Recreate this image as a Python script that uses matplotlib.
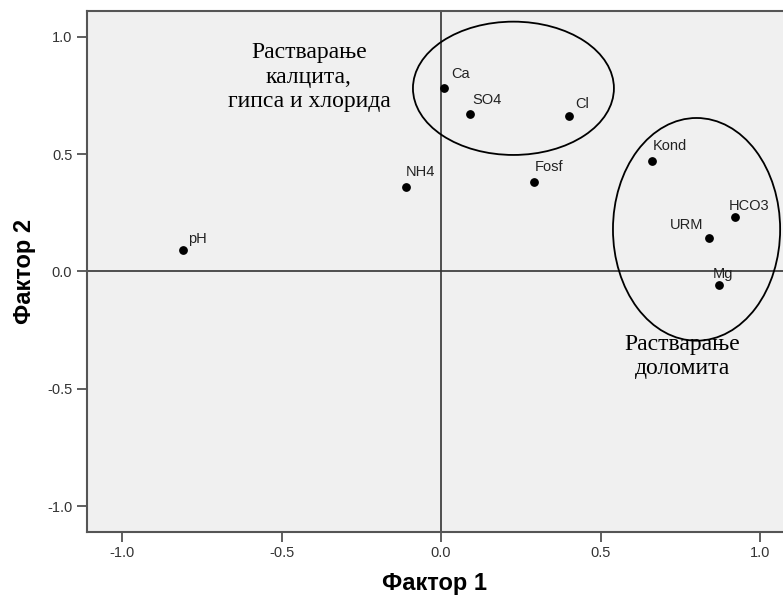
import matplotlib

matplotlib.use("Agg")

import matplotlib.pyplot as plt
from matplotlib.patches import Ellipse

# factor loadings
labels = ["pH", "NH4", "Ca", "SO4", "Cl", "Fosf", "Kond", "HCO3", "URM", "Mg"]
factor1 = [-0.81, -0.11, 0.01, 0.09, 0.40, 0.29, 0.66, 0.92, 0.84, 0.87]
factor2 = [0.09, 0.36, 0.78, 0.67, 0.66, 0.38, 0.47, 0.23, 0.14, -0.06]
label_offsets = [(4, 3), (0, 6), (5, 5), (2, 5), (5, 4), (1, 6), (1, 6), (-4, 3), (-4, 5), (-4, 3)]
label_align = ["left", "left", "left", "left", "left", "left", "left", "left", "right", "left"]

# groups (center x, center y, width, height) and their captions
groups = [(0.227, 0.78, 0.63, 0.568), (0.801, 0.179, 0.524, 0.949)]
group_texts = ["Растварање\nкалцита,\nгипса и хлорида", "Растварање\nдоломита"]
group_text_pos = [(-0.414, 0.827), (0.757, -0.363)]

xticks = [-1.0, -0.5, 0.0, 0.5, 1.0]
yticks = [-1.0, -0.5, 0.0, 0.5, 1.0]


def main() -> None:
    fig = plt.figure(figsize=(7.83, 6.03), dpi=100)
    ax = fig.add_axes([0.111, 0.118, 0.889, 0.864])
    ax.set_facecolor("#f0f0f0")

    ax.axhline(0, color="#333333", lw=1.2, zorder=1)
    ax.axvline(0, color="#333333", lw=1.2, zorder=1)

    ax.scatter(factor1, factor2, s=28, color="black", zorder=3)
    for lab, x, y, off, ha in zip(labels, factor1, factor2, label_offsets, label_align):
        ax.annotate(lab, (x, y), xytext=off, textcoords="offset points",
                    ha=ha, va="bottom", fontsize=10.5, color="#222222",
                    family="Liberation Sans")

    for (cx, cy, w, h) in groups:
        ax.add_patch(Ellipse((cx, cy), w, h, fill=False, edgecolor="black", lw=1.3, zorder=2))

    for txt, (tx, ty) in zip(group_texts, group_text_pos):
        ax.text(tx, ty, txt, ha="center", va="center", fontsize=17,
                family="Liberation Serif", linespacing=1.22)

    ax.set_xlim(-1.11, 1.072)
    ax.set_ylim(-1.11, 1.11)
    ax.set_xticks(xticks)
    ax.set_yticks(yticks)
    ax.set_xticklabels([f"{t:.1f}" for t in xticks])
    ax.set_yticklabels([f"{t:.1f}" for t in yticks])
    ax.tick_params(axis="both", length=7, width=1.2, color="#444444",
                   labelsize=10.5, labelcolor="#333333")
    for lab in ax.get_xticklabels() + ax.get_yticklabels():
        lab.set_family("Liberation Sans")

    for side in ["left", "bottom", "top"]:
        ax.spines[side].set_color("#555555")
        ax.spines[side].set_linewidth(1.5)
    ax.spines["right"].set_visible(False)

    ax.set_xlabel("Фактор 1", fontsize=17, fontweight="bold", family="Liberation Sans", labelpad=8)
    ax.set_ylabel("Фактор 2", fontsize=17, fontweight="bold", family="Liberation Sans", labelpad=8)

    fig.savefig("out.png", dpi=100)


if __name__ == "__main__":
    main()
